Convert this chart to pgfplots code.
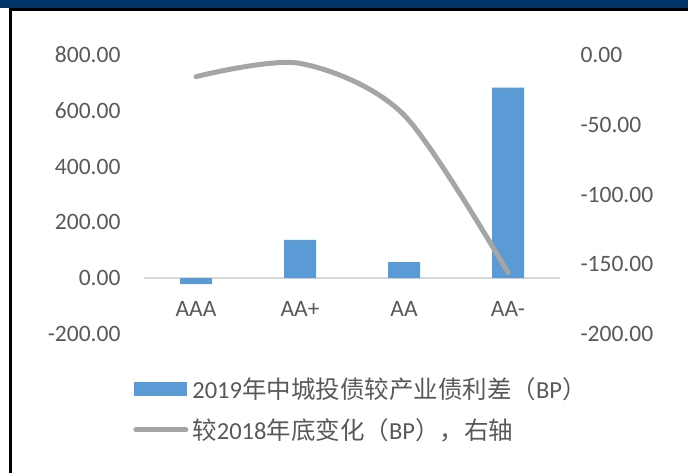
\documentclass[border=0pt]{standalone}
\usepackage{pgfplots}
\pgfplotsset{compat=1.18}
\usepackage{fontspec}
\setmainfont{Carlito}
\newfontfamily\cjk{Noto Sans CJK SC}
\definecolor{navy}{RGB}{0,51,102}
\definecolor{barblue}{RGB}{91,155,213}
\definecolor{linegray}{RGB}{165,165,165}
\definecolor{txt}{RGB}{89,89,89}
\definecolor{zerol}{RGB}{217,217,217}
\newcommand{\fs}{\fontsize{23.5bp}{28bp}\selectfont}
\newcommand{\fl}{\fontsize{24.5bp}{29bp}\selectfont}
\begin{document}
\begin{tikzpicture}[x=1bp,y=1bp]
\useasboundingbox (0,0) rectangle (688,-473);
\fill[navy] (0,0) rectangle (688,-8);
\fill[black] (9,-8) rectangle (688,-11);
\fill[black] (9,-8) rectangle (12,-473);
\begin{axis}[
  at={(144bp,-334bp)}, anchor=south west,
  scale only axis, width=416bp, height=279bp,
  xmin=-0.5, xmax=3.5, ymin=-200, ymax=800,
  axis x line*=middle, axis y line*=left,
  x axis line style={draw=zerol, line width=1.5bp, -},
  y axis line style={draw=none},
  hide obscured y ticks=false, hide obscured x ticks=false,
  xtick={0,1,2,3}, xticklabels={AAA,AA+,AA,AA-},
  ytick={-200,0,...,800},
  major tick length=0,
  tick label style={font=\fs, text=txt},
  yticklabel style={xshift=-20bp},
  xticklabel style={yshift=-20bp},
  yticklabel={\pgfmathprintnumber[fixed,fixed zerofill,precision=2,assume math mode=true]{\tick}},
  ybar, bar width=32bp,
  clip=false,
]
\addplot[fill=barblue, draw=none] coordinates {(0,-21) (1,137) (2,58) (3,683)};
\end{axis}
\begin{axis}[
  at={(144bp,-334bp)}, anchor=south west,
  scale only axis, width=416bp, height=279bp,
  xmin=-0.5, xmax=3.5, ymin=-200, ymax=0,
  axis y line*=right, axis x line=none,
  y axis line style={draw=none},
  ytick={-200,-150,...,0},
  major tick length=0,
  tick label style={font=\fs, text=txt},
  yticklabel style={xshift=17bp},
  yticklabel={\pgfmathprintnumber[fixed,fixed zerofill,precision=2,assume math mode=true]{\tick}},
  clip=false,
  legend style={at={(axis description cs:-0.026,-0.15)}, anchor=north west,
    draw=none, fill=none, font=\fl, text=txt, inner sep=0pt, row sep=17bp,
    nodes={inner sep=1bp}},
  legend cell align=left,
]
\addlegendimage{legend image code/.code={\fill[barblue] (0bp,-6.5bp) rectangle (52bp,6.5bp);}}
\addlegendentry{\hspace{3bp}2019{\cjk 年中城投债较产业债利差（}BP{\cjk ）}}
\addplot[linegray, line width=5bp, smooth, line cap=round,
  legend image code/.code={\draw[linegray, line width=5bp, line cap=round] (2bp,0bp) -- (52bp,0bp);}]
  coordinates {(0,-15.5) (1,-6) (2,-43) (3,-156)};
\addlegendentry{\hspace{3bp}{\cjk 较}2018{\cjk 年底变化（}BP{\cjk ），右轴}}
\end{axis}
\end{tikzpicture}
\end{document}
